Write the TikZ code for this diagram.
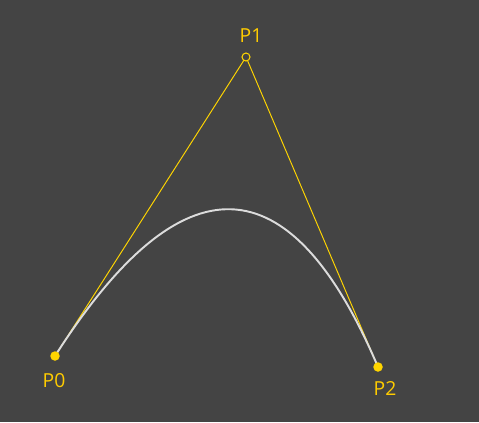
\documentclass[tikz,border=0pt]{standalone}
\usepackage{fontspec}
\setmainfont{Open Sans}
\usetikzlibrary{calc}
\definecolor{bgdark}{HTML}{444444}
\definecolor{ptyellow}{HTML}{FFD500}
\definecolor{lbyellow}{HTML}{FFCC00}
\definecolor{curvegray}{HTML}{DCDCDC}
\begin{document}
\begin{tikzpicture}[
x=0.02cm, y=-0.02cm, % 1 px = 0.02 cm, y downwards
dot/.style={circle, fill=ptyellow, inner sep=0pt, minimum size=0.19cm},
hollow/.style={circle, draw=ptyellow, fill=bgdark, line width=0.6pt, inner sep=0pt, minimum size=0.16cm},
ptlabel/.style={text=lbyellow, font=\fontsize{11}{13}\selectfont},
guide/.style={ptyellow, line width=0.55pt},
bezier/.style={curvegray, line width=1.1pt}
]

% --- background ---
\fill[bgdark] (0,0) rectangle (479,422);
\useasboundingbox (0,0) rectangle (479,422);

% --- control points ---
\coordinate (p0) at (55,356);
\coordinate (p1) at (246,57);
\coordinate (p2) at (378,367);

% control polygon
\draw[guide] (p0) -- (p1) -- (p2);

% quadratic curve as cubic: c = p + 2/3 (p1 - p)
\draw[bezier] (p0) .. controls ($(p0)!2/3!(p1)$) and ($(p2)!2/3!(p1)$) .. (p2);

% points and labels
\node[dot] (n0) at (p0) {};
\node[hollow] (n1) at (p1) {};
\node[dot] (n2) at (p2) {};

\node[ptlabel] (l0) at (54,381) {P0};
\node[ptlabel] (l1) at (251,36) {P1};
\node[ptlabel] (l2) at (385,388) {P2};

\end{tikzpicture}
\end{document}
